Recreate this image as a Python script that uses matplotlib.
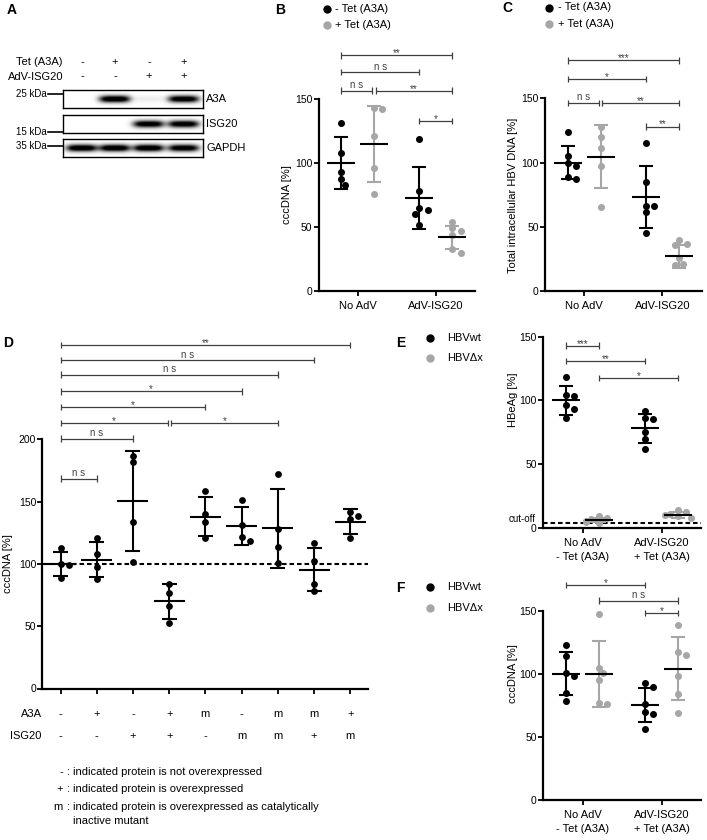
import numpy as np
import matplotlib
matplotlib.use("Agg")
import matplotlib.pyplot as plt
from matplotlib.lines import Line2D
from matplotlib import transforms

plt.rcParams['font.family'] = ['Liberation Sans', 'DejaVu Sans']

W, H = 707, 840
GREY = '#a6a6a6'
BRK = '#404040'

# ---------------- data ----------------
# A: western blot (band intensity per lane)
lane_tet = ['-', '+', '-', '+']
lane_adv = ['-', '-', '+', '+']
blot_names = ['A3A', 'ISG20', 'GAPDH']
blot_kda = ['25 kDa', '15 kDa', '35 kDa']
band_a3a = [0.0, 1.0, 0.06, 0.95]
band_isg20 = [0.0, 0.0, 0.95, 0.95]
band_gapdh = [1.0, 1.0, 1.0, 0.95]

# B: cccDNA, -Tet / +Tet
groups_bc = ['No AdV', 'AdV-ISG20']
b_minus = [[131, 108, 93, 87.5, 83], [118.5, 78.5, 64.5, 63, 60, 51.5]]
b_plus = [[143, 142.5, 121, 96, 75.5], [54, 49, 47, 44, 33, 30]]
b_minus_mean, b_minus_sd = [100, 72.5], [20, 24]
b_plus_mean, b_plus_sd = [115, 42], [29.5, 9]
b_stats = [(0, 3, 184, '**'), (0, 2, 171, 'ns'), (0, 1, 156.5, 'ns'),
           (1, 3, 156.5, '**'), (2, 3, 133, '*')]

# C: total intracellular HBV DNA
c_minus = [[123.5, 105, 100, 97.5, 88.5, 87.5], [115.5, 85, 66.5, 66.5, 61.5, 45.5]]
c_plus = [[127.5, 120, 111, 97, 65.5], [39.5, 36.5, 35.5, 25.5, 21, 20]]
c_minus_mean, c_minus_sd = [100, 73], [13, 24]
c_plus_mean, c_plus_sd = [104.5, 27], [24.5, 9]
c_stats = [(0, 3, 179.5, '***'), (0, 2, 165, '*'), (0, 1, 146.5, 'ns'),
           (1, 3, 146.5, '**'), (2, 3, 128, '**')]

# D: cccDNA for A3A / ISG20 combinations
d_a3a = ['-', '+', '-', '+', 'm', '-', 'm', 'm', '+']
d_isg20 = ['-', '-', '+', '+', '-', 'm', 'm', '+', 'm']
d_points = [[113, 100, 99, 88.5], [120.5, 108, 97.5, 87.5], [186.5, 181.5, 134, 101.5],
            [84, 77, 66, 52.5], [158.5, 140, 133.5, 120.5], [151.5, 131.5, 121.5, 118],
            [172.5, 128, 113.5, 100.5], [117, 102.5, 84, 78.5], [142, 138.5, 136, 120.5]]
d_mean = [100, 103.5, 150.5, 70, 138, 130.5, 128.5, 95.5, 134]
d_sd = [9.7, 14, 40.5, 14, 16, 15, 31.5, 17.5, 10]
d_stats = [(0, 8, 275.5, '**'), (0, 7, 263.5, 'ns'), (0, 6, 252, 'ns'), (0, 5, 238.5, '*'),
           (0, 4, 226, '*'), (0, 3, 213, '*'), (3, 6, 213, '*'), (0, 2, 200.5, 'ns'),
           (0, 1, 168.5, 'ns')]
d_notes = [('-', ['indicated protein is not overexpressed']),
           ('+', ['indicated protein is overexpressed']),
           ('m', ['indicated protein is overexpressed as catalytically', 'inactive mutant'])]

# E: HBeAg, HBVwt / HBVdx
groups_ef = ['No AdV\n- Tet (A3A)', 'AdV-ISG20\n+ Tet (A3A)']
e_wt = [[118.5, 104.5, 103.5, 96, 93, 86], [92, 86.5, 85, 75, 70, 61.5]]
e_dx = [[9, 7.5, 6.5, 5.5, 4.5, 4], [14, 12.5, 11, 10, 9, 8]]
e_wt_mean, e_wt_sd = [100, 78], [11.2, 11.5]
e_dx_mean, e_dx_sd = [6, 10], [1.8, 2]
e_cutoff = 3.5
e_stats = [(0, 1, 143, '***'), (0, 2, 131, '**'), (1, 3, 117.5, '*')]

# F: cccDNA, HBVwt / HBVdx
f_wt = [[122.5, 114, 101, 98.5, 84.5, 78.5], [93, 89.5, 76, 70, 68, 56.5]]
f_dx = [[147, 104.5, 100.5, 95, 77, 76], [139, 117.5, 115, 98, 84, 69]]
f_wt_mean, f_wt_sd = [100, 75.5], [17, 13.5]
f_dx_mean, f_dx_sd = [100, 104], [26, 25]
f_stats = [(0, 2, 170.5, '*'), (1, 3, 158, 'ns'), (2, 3, 148, '*')]


# ---------------- helpers ----------------
def px_axes(x0, y0, x1, y1):
    return fig.add_axes([x0 / W, 1 - y1 / H, (x1 - x0) / W, (y1 - y0) / H])


def ftext(x, y, s, **kw):
    return fig.text(x / W, 1 - y / H, s, **kw)


def ppu(ax):
    pos = ax.get_position()
    x0, x1 = ax.get_xlim()
    y0, y1 = ax.get_ylim()
    return pos.width * W / (x1 - x0), pos.height * H / (y1 - y0)


def swarm(ax, vals, d_px):
    # simple beeswarm: push overlapping points sideways
    sx, sy = ppu(ax)
    placed, offs = [], []
    for v in vals:
        y = v * sy
        for k in (0, 1, -1, 2, -2, 3, -3):
            x = k * d_px * 0.6
            if all((x - a) ** 2 + (y - b) ** 2 >= (0.9 * d_px) ** 2 for a, b in placed):
                break
        placed.append((x, y))
        offs.append(x / sx)
    return np.array(offs)


def draw_group(ax, x, pts, mean, sd, color, d_px=7, mhw=14, chw=7):
    sx, sy = ppu(ax)
    pts = np.asarray(pts, float)
    ax.scatter(x + swarm(ax, pts, d_px), pts, s=(d_px / 1.389) ** 2, color=color,
               linewidths=0, zorder=2, clip_on=False)
    kw = dict(color=color, lw=1.5, solid_capstyle='butt', zorder=3)
    ax.plot([x, x], [mean - sd, mean + sd], **kw)
    for yy in (mean - sd, mean + sd):
        ax.plot([x - chw / sx, x + chw / sx], [yy, yy], **kw)
    ax.plot([x - mhw / sx, x + mhw / sx], [mean, mean], color='black', lw=1.5,
            solid_capstyle='butt', zorder=4)


def draw_stats(ax, pos, stats):
    sx, sy = ppu(ax)
    kw = dict(color=BRK, lw=0.9, clip_on=False, solid_capstyle='butt')
    for i, j, y, lab in stats:
        x1, x2 = pos[i], pos[j]
        for i2, j2, y2, _ in stats:
            if y2 == y and j2 == i:
                x1 += 1.6 / sx
            if y2 == y and i2 == j:
                x2 -= 1.6 / sx
        h = 3.2 / sy
        ax.plot([x1, x2], [y, y], **kw)
        ax.plot([x1, x1], [y - h, y + h], **kw)
        ax.plot([x2, x2], [y - h, y + h], **kw)
        if lab == 'ns':
            ax.text((x1 + x2) / 2, y + 2.5 / sy, 'n s', ha='center', va='baseline',
                    fontsize=7, color=BRK, clip_on=False)
        else:
            ax.text((x1 + x2) / 2, y - 1.0 / sy, lab, ha='center', va='baseline',
                    fontsize=7, color=BRK, clip_on=False)


def style_axes(ax, yticks):
    for s in ('top', 'right'):
        ax.spines[s].set_visible(False)
    for s in ('left', 'bottom'):
        ax.spines[s].set_linewidth(1.6)
    ax.set_yticks(yticks)
    ax.tick_params(axis='both', direction='out', length=3.5, width=1.3, labelsize=7.5)
    ax.tick_params(axis='y', pad=1)
    ax.tick_params(axis='x', pad=4, labelsize=8)


def legend(x, y, labels, colors, gap, dy):
    for k, (lab, col) in enumerate(zip(labels, colors)):
        yy = y + k * dy
        fig.add_artist(Line2D([x / W], [1 - yy / H], marker='o', ms=5, color=col,
                              lw=0, transform=fig.transFigure))
        ftext(x + gap, yy, lab, ha='left', va='center', fontsize=8)


def two_group(ax, left, right, lmean, lsd, rmean, rsd, stats, cats):
    ax.set_xlim(-0.5, 1.5)
    ax.set_ylim(0, 150)
    style_axes(ax, [0, 50, 100, 150])
    ax.set_xticks([0, 1])
    ax.set_xticklabels(cats, linespacing=1.45)
    off = 0.21
    pos = []
    for g in range(2):
        draw_group(ax, g - off, left[g], lmean[g], lsd[g], 'black')
        draw_group(ax, g + off, right[g], rmean[g], rsd[g], GREY)
        pos += [g - off, g + off]
    draw_stats(ax, pos, stats)


fig = plt.figure(figsize=(W / 100, H / 100), dpi=100)

# ---------------- A ----------------
ftext(12, 10, 'A', fontsize=10, fontweight='bold', ha='center', va='center')
lane_x = [82, 115, 149, 184]
ftext(63, 62, 'Tet (A3A)', ha='right', va='center', fontsize=8)
ftext(63, 76.5, 'AdV-ISG20', ha='right', va='center', fontsize=8)
for lx, t, a in zip(lane_x, lane_tet, lane_adv):
    ftext(lx, 62, t, ha='center', va='center', fontsize=8)
    ftext(lx, 76.5, a, ha='center', va='center', fontsize=8)

box_x0, box_x1 = 63.3, 203.3
boxes_y = [(90, 108), (115, 133), (139, 157)]
kda_y = [94, 131.7, 145.7]
bands = [band_a3a, band_isg20, band_gapdh]
xs = np.linspace(0, box_x1 - box_x0, 281)
for (y0, y1), name, kda, ky, inten in zip(boxes_y, blot_names, blot_kda, kda_y, bands):
    bax = px_axes(box_x0, y0, box_x1, y1)
    ys = np.linspace(0, y1 - y0, 37)
    X, Y = np.meshgrid(xs, ys)
    img = np.zeros_like(X)
    for lx, v in zip(lane_x, inten):
        c = lx - box_x0
        img += v * np.exp(-(np.abs(X - c) / 15.5) ** 4) * np.exp(-((Y - (y1 - y0) / 2) / 3.6) ** 2)
    bax.imshow(np.clip(img * 1.25, 0, 1), cmap='gray_r', vmin=0, vmax=1, aspect='auto',
               extent=[0, box_x1 - box_x0, y1 - y0, 0], interpolation='bilinear')
    bax.set_xticks([])
    bax.set_yticks([])
    for s in bax.spines.values():
        s.set_linewidth(1.0)
    ftext(box_x1 + 3, (y0 + y1) / 2, name, ha='left', va='center', fontsize=8)
    ftext(47, ky, kda, ha='right', va='center', fontsize=7)
    fig.add_artist(Line2D([48 / W, box_x0 / W], [1 - ky / H] * 2, color='black', lw=1.2,
                          transform=fig.transFigure))

# ---------------- B ----------------
ftext(280, 10, 'B', fontsize=10, fontweight='bold', ha='center', va='center')
legend(326.7, 8.5, ['- Tet (A3A)', '+ Tet (A3A)'], ['black', GREY], 8, 16.5)
axB = px_axes(318.5, 99, 475, 291)
two_group(axB, b_minus, b_plus, b_minus_mean, b_minus_sd, b_plus_mean, b_plus_sd,
          b_stats, groups_bc)
ftext(286.7, 195, 'cccDNA [%]', rotation=90, ha='center', va='center', fontsize=8)

# ---------------- C ----------------
ftext(507, 8.5, 'C', fontsize=10, fontweight='bold', ha='center', va='center')
legend(549, 7.5, ['- Tet (A3A)', '+ Tet (A3A)'], ['black', GREY], 8.5, 16.5)
axC = px_axes(545, 98.3, 701.6, 291)
two_group(axC, c_minus, c_plus, c_minus_mean, c_minus_sd, c_plus_mean, c_plus_sd,
          c_stats, groups_bc)
ftext(513.3, 195, 'Total intracellular HBV DNA [%]', rotation=90, ha='center', va='center',
      fontsize=8)

# ---------------- D ----------------
ftext(8.5, 343, 'D', fontsize=10, fontweight='bold', ha='center', va='center')
axD = px_axes(42.4, 439.3, 368.4, 688.5)
axD.set_xlim(-0.5, 8.5)
axD.set_ylim(0, 200)
style_axes(axD, [0, 50, 100, 150, 200])
axD.set_xticks(range(len(d_points)))
axD.set_xticklabels([])
axD.axhline(100, color='black', lw=1.5, ls=(0, (2.2, 1.4)), zorder=1)
for g, pts in enumerate(d_points):
    draw_group(axD, g, pts, d_mean[g], d_sd[g], 'black', d_px=6.8, mhw=15.5, chw=7.5)
draw_stats(axD, list(range(len(d_points))), d_stats)
ftext(8.3, 563.5, 'cccDNA [%]', rotation=90, ha='center', va='center', fontsize=8)

tr = transforms.blended_transform_factory(axD.transData, fig.transFigure)
ftext(41.7, 714, 'A3A', ha='right', va='center', fontsize=8)
ftext(41.7, 735.7, 'ISG20', ha='right', va='center', fontsize=8)
for g in range(len(d_a3a)):
    axD.text(g, 1 - 714 / H, d_a3a[g], transform=tr, ha='center', va='center', fontsize=8)
    axD.text(g, 1 - 735.7 / H, d_isg20[g], transform=tr, ha='center', va='center', fontsize=8)

note_y = [771.7, 789.3, 807.3]
for (sym, lines), ny in zip(d_notes, note_y):
    ftext(63, ny, sym, ha='right', va='center', fontsize=8)
    ftext(68.3, ny, ':', ha='center', va='center', fontsize=8)
    for k, line in enumerate(lines):
        ftext(73.3, ny + 13.4 * k, line, ha='left', va='center', fontsize=8)

# ---------------- E ----------------
ftext(400.7, 343, 'E', fontsize=10, fontweight='bold', ha='center', va='center')
legend(430, 338.3, ['HBVwt', 'HBV\u0394x'], ['black', GREY], 16.7, 20)
axE = px_axes(543, 336.7, 701, 527.7)
axE.axhline(e_cutoff, color='black', lw=1.5, ls=(0, (2.2, 1.4)), zorder=1)
two_group(axE, e_wt, e_dx, e_wt_mean, e_wt_sd, e_dx_mean, e_dx_sd, e_stats, groups_ef)
axE.text(-0.045, 7.2, 'cut-off', transform=transforms.blended_transform_factory(
    axE.transAxes, axE.transData), ha='right', va='center', fontsize=7)
ftext(512.5, 400, 'HBeAg [%]', rotation=90, ha='center', va='center', fontsize=8)

# ---------------- F ----------------
ftext(400.7, 588.3, 'F', fontsize=10, fontweight='bold', ha='center', va='center')
legend(430, 587.3, ['HBVwt', 'HBV\u0394x'], ['black', GREY], 16.7, 20.4)
axF = px_axes(543, 610.7, 701, 800)
two_group(axF, f_wt, f_dx, f_wt_mean, f_wt_sd, f_dx_mean, f_dx_sd, f_stats, groups_ef)
ftext(512.5, 673.3, 'cccDNA [%]', rotation=90, ha='center', va='center', fontsize=8)

fig.savefig('out.png', dpi=100)
